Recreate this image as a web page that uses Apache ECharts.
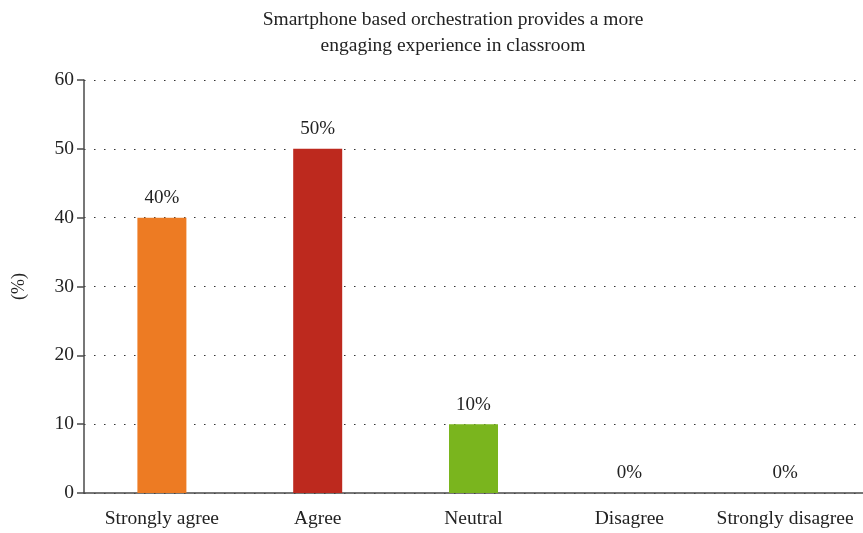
<!DOCTYPE html>
<html>
<head>
<meta charset="utf-8">
<script src="https://cdn.jsdelivr.net/npm/echarts@6/dist/echarts.min.js"></script>
<style>
    html, body { margin: 0; padding: 0; background: #fff; }
    #chart { width: 863px; height: 533px; }
</style>
</head>
<body>
<div id="chart"></div>
<script>
const categories = ['Strongly agree', 'Agree', 'Neutral', 'Disagree', 'Strongly disagree'];
const values = [40, 50, 10, 0, 0];
const barColors = ['#ed7b23', '#bd291e', '#7ab51e', '#7f7f7f', '#7f7f7f'];
const yTicks = [0, 10, 20, 30, 40, 50, 60];

const fontFamily = '"Liberation Serif", "DejaVu Serif", serif';

const option = {
    animation: false,
    textStyle: { fontFamily: fontFamily },
    title: {
        text: 'Smartphone based orchestration provides a more\nengaging experience in classroom',
        left: 448,
        top: 2,
        textAlign: 'center',
        textStyle: {
            fontFamily: fontFamily,
            fontWeight: 'normal',
            fontSize: 19.5,
            color: '#222',
            lineHeight: 26,
        },
    },
    grid: {
        left: 84,
        right: 0,
        top: 80,
        bottom: 40,
    },
    xAxis: {
        type: 'category',
        data: categories,
        axisTick: { show: false },
        axisLine: { lineStyle: { color: '#4a4a4a', width: 1.5 } },
        axisLabel: {
            interval: 0,
            hideOverlap: false,
            color: '#222',
            fontSize: 19.5,
            margin: 16,
            fontFamily: fontFamily,
        },
    },
    yAxis: {
        type: 'value',
        min: yTicks[0],
        max: yTicks[yTicks.length - 1],
        interval: 10,
        name: '(%)',
        nameLocation: 'middle',
        nameGap: 56,
        nameRotate: 90,
        nameTextStyle: { color: '#222', fontSize: 18, fontFamily: fontFamily },
        axisLine: { show: true, lineStyle: { color: '#4a4a4a', width: 1.5 } },
        axisTick: { show: true, inside: false, length: 7, lineStyle: { color: '#4a4a4a', width: 1.5 } },
        axisLabel: { color: '#222', fontSize: 19.5, margin: 10, fontFamily: fontFamily },
        splitLine: {
            show: true,
            lineStyle: { type: [1.5, 8.5], color: '#333', width: 1.2 },
        },
    },
    series: [
        {
            type: 'bar',
            data: values.map((v, i) => ({ value: v, itemStyle: { color: barColors[i] } })),
            barWidth: 49,
            label: {
                show: true,
                position: 'top',
                distance: 10,
                formatter: '{c}%',
                color: '#222',
                fontSize: 19,
                fontFamily: fontFamily,
            },
        },
    ],
};

const myChart = echarts.init(document.getElementById('chart'));
myChart.setOption(option);
</script>
</body>
</html>
